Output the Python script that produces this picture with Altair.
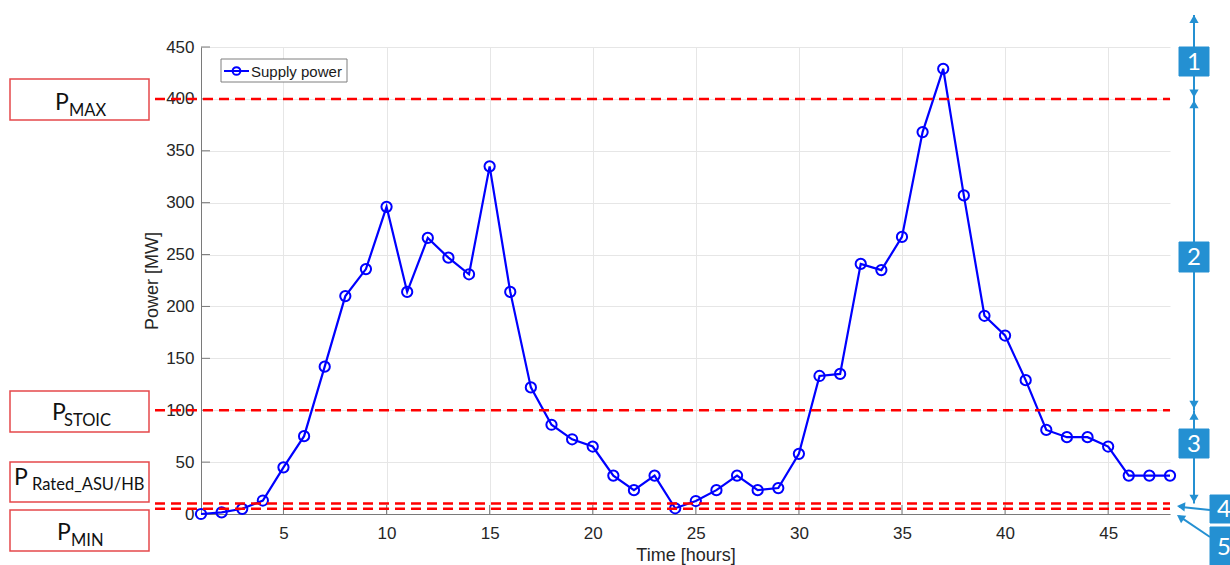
import altair as alt
import pandas as pd

# Hourly supply power over two days (MW)
hours = list(range(1, 49))
supply_mw = [0, 1.5, 5, 13, 45, 75, 142, 210, 236, 296, 214, 266, 247, 231, 335, 214,
             122, 86, 72, 65, 37, 23, 37, 5.5, 12.5, 23, 37, 23, 25, 58, 133, 135,
             241, 235, 267, 368, 429, 307, 191, 172, 129, 81, 74, 74, 65, 37, 37, 37]

# Operating limits (MW)
limit_names = ["MAX", "STOIC", "Rated_ASU/HB", "MIN"]
limit_mw = [400, 100, 10, 5]

# Axis tick values
x_ticks = [5, 10, 15, 20, 25, 30, 35, 40, 45]
y_ticks = [0, 50, 100, 150, 200, 250, 300, 350, 400, 450]

# Operating regions between the limits, numbered top to bottom
region_labels = ["1", "2", "3", "4", "5"]

W, H = 969, 467
AX_FONT = "Liberation Sans"
NOTE_FONT = "Lato"
BLUE_NOTE = "#2490d2"
BOX_RED = "#e5484b"

supply = pd.DataFrame({"hour": hours, "mw": supply_mw})
limits = pd.DataFrame({"name": limit_names, "mw": limit_mw})
one = pd.DataFrame({"k": [0]})

xscale = alt.Scale(domain=[1, 48], nice=False, zero=False)
yscale = alt.Scale(domain=[0, 450], nice=False)
xaxis = alt.Axis(values=x_ticks, title="Time [hours]", grid=True, ticks=False, tickSize=0,
                 labelPadding=11, titlePadding=5, labelFlush=False)
yaxis = alt.Axis(values=y_ticks, title="Power [MW]", grid=True, ticks=False, tickSize=0,
                 labelPadding=7, titlePadding=4, labelFlush=False)


def X(field, **kw):
    return alt.X(field, scale=xscale, axis=xaxis, **kw)


def Y(field, **kw):
    return alt.Y(field, scale=yscale, axis=yaxis, **kw)


def px_rect(x, x2, y, y2, **style):
    return alt.Chart(one).mark_rect(**style).encode(
        x=alt.value(x), x2=alt.value(x2), y=alt.value(y), y2=alt.value(y2))


def px_text(x, y, text, **style):
    return alt.Chart(one).mark_text(text=text, **style).encode(
        x=alt.value(x), y=alt.value(y))


def px_line(x, y, x2, y2, **style):
    return alt.Chart(one).mark_rule(**style).encode(
        x=alt.value(x), y=alt.value(y), x2=alt.value(x2), y2=alt.value(y2))


def px_point(x, y, shape, **style):
    return alt.Chart(one).mark_point(shape=shape, filled=True, opacity=1, **style).encode(
        x=alt.value(x), y=alt.value(y))


layers = []

# inward tick marks on the left and bottom axes
layers.append(alt.Chart(pd.DataFrame({"t": x_ticks})).mark_rule(color="#7a7a7a", strokeWidth=1).encode(
    x=X("t:Q"), y=alt.value(H), y2=alt.value(H - 9)))
layers.append(alt.Chart(pd.DataFrame({"t": y_ticks})).mark_rule(color="#7a7a7a", strokeWidth=1).encode(
    y=Y("t:Q"), x=alt.value(0), x2=alt.value(9)))

# supply power series
layers.append(alt.Chart(supply).mark_line(color="#0000ff", strokeWidth=2.2).encode(
    x=X("hour:Q"), y=Y("mw:Q")))
layers.append(alt.Chart(supply).mark_point(shape="circle", filled=False, size=105, strokeWidth=2,
                                           color="#0000ff", opacity=1).encode(
    x=X("hour:Q"), y=Y("mw:Q")))

# dashed limit lines, extended to the left towards the labels
layers.append(alt.Chart(limits).mark_rule(color="#ff0000", strokeWidth=2.5, strokeDash=[10, 6]).encode(
    y=Y("mw:Q"), x=alt.value(-46), x2=alt.value(W)))

# legend
layers.append(px_rect(20, 146, 12, 35, fill="white", stroke="#7f7f7f", strokeWidth=1))
layers.append(px_line(23, 24, 48, 24, color="#0000ff", strokeWidth=2))
layers.append(alt.Chart(one).mark_point(shape="circle", filled=False, size=60, strokeWidth=2,
                                        color="#0000ff", opacity=1).encode(
    x=alt.value(35.5), y=alt.value(24)))
layers.append(px_text(50, 29.5, "Supply power", font=AX_FONT, fontSize=15, color="#1a1a1a",
                      align="left", baseline="alphabetic"))

# limit label boxes on the left: (box top, box bottom, P x, P baseline, sub x, sub baseline)
box_layout = [
    (32, 73, -146, 63, -132, 68.5),
    (344, 385, -149, 372.5, -137, 378.5),
    (415, 455, -187, 438, -169, 443),
    (463, 504, -144, 492.5, -130, 498.5),
]
for name, (bt, bb, px, pb, sx, sb) in zip(limit_names, box_layout):
    layers.append(px_rect(-191, -52, bt, bb, fill="white", stroke=BOX_RED, strokeWidth=1.5))
    layers.append(px_text(px, pb, "P", font=NOTE_FONT, fontSize=23, color="#111111",
                          align="left", baseline="alphabetic"))
    layers.append(px_text(sx, sb, name, font=NOTE_FONT, fontSize=16.5, color="#111111",
                          align="left", baseline="alphabetic"))

# region arrows on the right
AX_X = 993
TRI = 85
r = TRI ** 0.5 / 2
h = 0.866 * r
gap = 1.5
layers.append(alt.Chart(one).mark_rule(color=BLUE_NOTE, strokeWidth=2).encode(
    x=alt.value(AX_X), y=alt.Y(datum=limit_mw[0], scale=yscale, axis=yaxis), y2=alt.value(-32)))
for hi, lo in [(limit_mw[0], limit_mw[1]), (limit_mw[1], limit_mw[2])]:
    layers.append(alt.Chart(pd.DataFrame({"hi": [hi], "lo": [lo]})).mark_rule(
        color=BLUE_NOTE, strokeWidth=2).encode(
        x=alt.value(AX_X), y=Y("hi:Q"), y2="lo:Q"))
# arrow heads at both ends of each region
layers.append(px_point(AX_X, -32 + h, "triangle-up", size=TRI, color=BLUE_NOTE))
for v, shape, off in [(limit_mw[0], "triangle-down", -(gap + h)),
                      (limit_mw[0], "triangle-up", gap + h),
                      (limit_mw[1], "triangle-down", -(gap + h)),
                      (limit_mw[1], "triangle-up", gap + h),
                      (limit_mw[2], "triangle-down", -(gap + h) + 0.5)]:
    layers.append(alt.Chart(one).mark_point(shape=shape, filled=True, opacity=1, size=TRI,
                                            color=BLUE_NOTE, yOffset=off).encode(
        x=alt.value(AX_X), y=alt.Y(datum=v, scale=yscale, axis=yaxis)))

# pointers for the two lowest limits
layers.append(px_line(1009, 463, 978, 459.8, color=BLUE_NOTE, strokeWidth=2))
layers.append(px_point(976 + h, 459.4, "triangle-left", size=TRI, color=BLUE_NOTE, angle=6))
layers.append(px_line(1009, 490, 978, 469.2, color=BLUE_NOTE, strokeWidth=2))
layers.append(px_point(976 + h * 0.832, 468 + h * 0.555, "triangle-left", size=TRI,
                       color=BLUE_NOTE, angle=34))

# numbered region tags
tag_boxes = [(978, 1008, 0, 29), (978, 1008, 195, 225), (978, 1008, 382, 411),
             (1009, 1045, 448, 476), (1009, 1045, 480, 520)]
for lab, (x0, x1, y0, y1) in zip(region_labels, tag_boxes):
    layers.append(px_rect(x0, x1, y0, y1, fill=BLUE_NOTE, stroke=BLUE_NOTE))
    layers.append(px_text((x0 + x1) / 2 if x1 < 1040 else 1023, (y0 + y1) / 2 + 1, lab,
                          font=NOTE_FONT, fontSize=24, color="white",
                          align="center", baseline="middle"))

chart = alt.layer(*layers).properties(
    width=W, height=H,
    padding={"left": 201, "top": 47, "right": 60, "bottom": 51},
    autosize=alt.AutoSizeParams(type="none"),
    background="white",
).configure_view(stroke=None).configure_axis(
    labelFont=AX_FONT, titleFont=AX_FONT, labelFontSize=17, titleFontSize=18,
    labelColor="#262626", titleColor="#262626", titleFontWeight="normal",
    gridColor="#e6e6e6", gridWidth=1, domainColor="#7a7a7a", domainWidth=1,
)

chart.save("out.html", embed_options={"renderer": "svg", "actions": False})
